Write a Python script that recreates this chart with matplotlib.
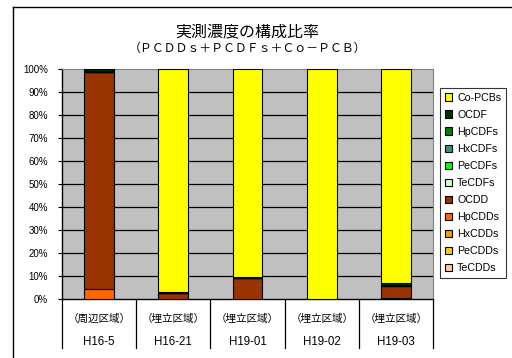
import matplotlib
matplotlib.use('Agg')
import matplotlib.pyplot as plt
import matplotlib.transforms as mtransforms
from matplotlib.lines import Line2D
import numpy as np

plt.rcParams['font.family'] = ['Liberation Sans', 'Noto Sans CJK JP']

sites = ['H16-5', 'H16-21', 'H19-01', 'H19-02', 'H19-03']
areas = ['（周辺区域）', '（埋立区域）', '（埋立区域）', '（埋立区域）', '（埋立区域）']

# stacked bottom -> top, percent of total
congeners = ['TeCDDs', 'PeCDDs', 'HxCDDs', 'HpCDDs', 'OCDD',
             'TeCDFs', 'PeCDFs', 'HxCDFs', 'HpCDFs', 'OCDF', 'Co-PCBs']
colors = ['#FFCC99', '#FFCC00', '#FF9900', '#FF6600', '#993300',
          '#CCFFCC', '#00FF00', '#339966', '#008000', '#003300', '#FFFF00']

TeCDDs = [0.0, 0.0, 0.0, 0.0, 0.0]
PeCDDs = [0.0, 0.0, 0.0, 0.0, 0.0]
HxCDDs = [0.0, 0.0, 0.0, 0.0, 0.0]
HpCDDs = [4.5, 0.0, 0.2, 0.0, 0.6]
OCDD = [94.2, 2.6, 9.0, 0.0, 4.9]
TeCDFs = [0.0, 0.0, 0.0, 0.0, 0.0]
PeCDFs = [0.0, 0.0, 0.0, 0.0, 0.0]
HxCDFs = [0.0, 0.0, 0.0, 0.0, 0.0]
HpCDFs = [0.3, 0.2, 0.1, 0.0, 0.5]
OCDF = [0.8, 0.4, 0.3, 0.0, 0.8]
CoPCBs = [0.2, 96.8, 90.4, 100.0, 93.2]

series = [TeCDDs, PeCDDs, HxCDDs, HpCDDs, OCDD,
          TeCDFs, PeCDFs, HxCDFs, HpCDFs, OCDF, CoPCBs]

fig = plt.figure(figsize=(5.12, 3.58), dpi=100)
ax = fig.add_axes([62/512, 1-299/358, (433-62)/512, (299-69)/358])
ax.set_facecolor('#C0C0C0')

x = np.arange(len(sites))
bottom = np.zeros(len(sites))
for name, col, vals in zip(congeners, colors, series):
    ax.bar(x, vals, 0.4, bottom=bottom, color=col, edgecolor='black',
           linewidth=0.8, label=name, zorder=3)
    bottom += np.array(vals)

ax.set_xlim(-0.5, len(sites) - 0.5)
ax.set_ylim(0, 100)
ax.set_yticks(range(0, 101, 10))
ax.set_yticklabels([f'{v}%' for v in range(0, 101, 10)], fontsize=7)
ax.set_xticks([])
ax.tick_params(axis='y', direction='out', length=3, width=0.8, pad=7)
for v in range(10, 100, 10):
    ax.axhline(v, color='black', linewidth=0.9, zorder=1)
for s in ['left', 'bottom']:
    ax.spines[s].set_color('black')
    ax.spines[s].set_linewidth(1.0)
for s in ['top', 'right']:
    ax.spines[s].set_color('#808080')
    ax.spines[s].set_linewidth(0.8)

# category separators and two-row labels
trans = mtransforms.blended_transform_factory(ax.transData, ax.transAxes)
for b in np.arange(-0.5, len(sites), 1.0):
    ax.add_line(Line2D([b, b], [0, -0.215], transform=trans, color='black',
                       linewidth=0.9, clip_on=False))
for i in range(len(sites)):
    ax.text(i, -0.085, areas[i], transform=trans, ha='center', va='center',
            fontsize=7.6)
    ax.text(i, -0.188, sites[i], transform=trans, ha='center', va='center',
            fontsize=8.3)

cx = 0.5 * (62 + 433) / 512
fig.text(cx, 1 - 32/358, '実測濃度の構成比率', ha='center',
         va='center', fontsize=11.5)
fig.text(cx, 1 - 49/358,
         '（ＰＣＤＤｓ＋ＰＣＤＦｓ＋Ｃｏ－ＰＣＢ）', ha='center', va='center',
         fontsize=8.6)

# chart frame (cropped at right and bottom)
fig.add_artist(Line2D([13/512, 13/512], [0, 1 - 7/358], transform=fig.transFigure,
                      color='black', linewidth=1.0))
fig.add_artist(Line2D([13/512, 1], [1 - 7/358, 1 - 7/358], transform=fig.transFigure,
                      color='black', linewidth=1.0))

h, l = ax.get_legend_handles_labels()
leg = fig.legend(h[::-1], l[::-1], loc='upper left',
                 bbox_to_anchor=(440/512, 1 - 88/358), fontsize=7.7,
                 frameon=True, fancybox=False, edgecolor='black',
                 handlelength=0.7, handleheight=0.7, handletextpad=0.45,
                 labelspacing=0.66, borderpad=0.45, borderaxespad=0)
leg.get_frame().set_linewidth(0.8)

fig.savefig('out.png', dpi=100)
